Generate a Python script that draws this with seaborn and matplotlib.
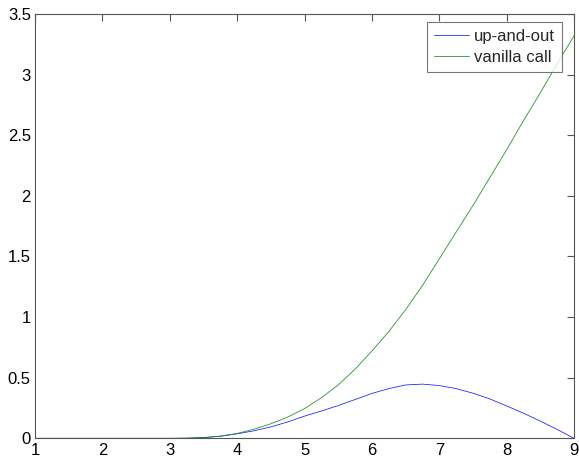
import matplotlib
matplotlib.use("Agg")
import matplotlib.pyplot as plt
import seaborn as sns
import pandas as pd

x_vals = [1, 1.5, 2, 2.5, 3, 3.25, 3.5, 3.75, 4, 4.25, 4.5, 4.75, 5, 5.25, 5.5,
          5.75, 6, 6.25, 6.5, 6.75, 7, 7.25, 7.5, 7.75, 8, 8.25, 8.5, 8.75, 9]
up_and_out = [0, 0, 0, 0, 0, 0.001, 0.006, 0.017, 0.037, 0.062, 0.094, 0.135,
              0.183, 0.225, 0.27, 0.32, 0.37, 0.41, 0.44, 0.447, 0.435, 0.41,
              0.372, 0.325, 0.267, 0.207, 0.142, 0.073, 0]
vanilla_call = [0, 0, 0, 0, 0, 0.001, 0.006, 0.018, 0.04, 0.075, 0.12, 0.175,
                0.245, 0.335, 0.44, 0.57, 0.72, 0.88, 1.06, 1.26, 1.48, 1.70,
                1.92, 2.15, 2.38, 2.62, 2.85, 3.09, 3.32]
series_names = ["up-and-out", "vanilla call"]
x_ticks = [1, 2, 3, 4, 5, 6, 7, 8, 9]
y_ticks = [0, 0.5, 1, 1.5, 2, 2.5, 3, 3.5]
y_tick_labels = ["0", "0.5", "1", "1.5", "2", "2.5", "3", "3.5"]

df = pd.DataFrame({
    "x": x_vals * 2,
    "y": up_and_out + vanilla_call,
    "series": [series_names[0]] * len(x_vals) + [series_names[1]] * len(x_vals),
})

sns.set_style("white")
plt.rcParams["font.family"] = ["Liberation Sans", "DejaVu Sans"]

fig = plt.figure(figsize=(5.79, 4.58), dpi=100)
ax = fig.add_axes([0.0605, 0.0430, 0.9309, 0.9265])

sns.lineplot(data=df, x="x", y="y", hue="series", hue_order=series_names,
             palette=["#1a1aff", "#1a8a1a"], linewidth=0.55, ax=ax,
             estimator=None, sort=False)

ax.set_xlim(1, 9)
ax.set_ylim(0, 3.5)
ax.set_xticks(x_ticks)
ax.set_xticklabels([str(t) for t in x_ticks])
ax.set_yticks(y_ticks)
ax.set_yticklabels(y_tick_labels)
ax.set_xlabel("")
ax.set_ylabel("")
ax.tick_params(axis="both", direction="in", length=5, width=0.8, color="#555555",
               labelsize=12, labelcolor="black", top=True, right=True)
ax.tick_params(axis="x", pad=3.5)
ax.tick_params(axis="y", pad=3)
for s in ax.spines.values():
    s.set_visible(True)
    s.set_color("#555555")
    s.set_linewidth(0.8)

leg = ax.legend(loc="upper right", fontsize=12, frameon=True, fancybox=False,
                edgecolor="#555555", handlelength=2.1, handletextpad=0.35,
                borderpad=0.4, labelspacing=0.35, borderaxespad=0,
                bbox_to_anchor=(0.9777, 0.98))
leg.get_frame().set_linewidth(0.8)
for line in leg.get_lines():
    line.set_linewidth(0.55)

fig.savefig("out.png", dpi=100)
